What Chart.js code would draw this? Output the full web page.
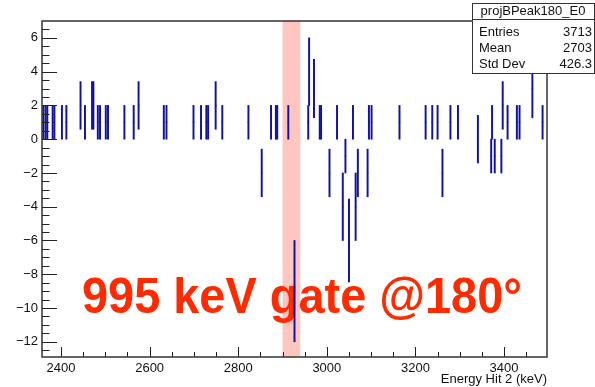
<!DOCTYPE html>
<html>
<head>
<meta charset="utf-8">
<script src="https://cdn.jsdelivr.net/npm/chart.js@4.4.0/dist/chart.umd.min.js"></script>
<style>
  html, body { margin: 0; padding: 0; background: #fff; }
  #wrap { width: 595px; height: 387px; }
</style>
</head>
<body>
<div id="wrap"><canvas id="projChart" width="595" height="387"></canvas></div>
<script>
// projBPeak180_E0 - bins (keV, content, error)
const binCenters = [
  2360, 2365, 2369, 2381, 2385, 2402, 2412, 2444, 2454, 2470,
  2473, 2483, 2488, 2501, 2506, 2543, 2564, 2575, 2632, 2638,
  2699, 2716, 2728, 2732, 2749, 2764, 2823, 2853, 2874, 2885,
  2888, 2913, 2927, 2958, 2960, 2971, 2984, 2987, 3006, 3023,
  3036, 3042, 3050, 3059, 3065, 3070, 3092, 3095, 3101, 3164,
  3223, 3238, 3250, 3261, 3279, 3296, 3341, 3371, 3373, 3379,
  3394, 3397, 3408, 3429, 3435, 3464, 3487
];
const binValues = [
  1, 1, 1, 1, 1, 1, 1, 2, 1, 2,
  2, 1, 1, 1, 1, 1, 1, 2, 1, 1,
  1, 1, 1, 1, 2, 1, 1, -2, 1, 1,
  1, 1, -9, 1, 4, 3, 1, 1, -2, 1,
  -4, -1, -6, 1, -4, -2, -2, 1, 1, 1,
  1, 1, 1, -2, 1, 1, 0, -1, 1, -1,
  -1, 2, 1, 1, 1, 3, 1
];
const binErrors = [
  1, 1, 1, 1, 1, 1, 1, 1.41, 1, 1.41,
  1.41, 1, 1, 1, 1, 1, 1, 1.41, 1, 1,
  1, 1, 1, 1, 1.41, 1, 1, 1.41, 1, 1,
  1, 1, 3, 1, 2, 1.73, 1, 1, 1.41, 1,
  2, 1, 2.45, 1, 2, 1.41, 1.41, 1, 1, 1,
  1, 1, 1, 1.41, 1, 1, 1.41, 1, 1, 1,
  1, 1.41, 1, 1, 1, 1.73, 1
];

const xTickValues = [2400, 2600, 2800, 3000, 3200, 3400];
const yTickValues = [-12, -10, -8, -6, -4, -2, 0, 2, 4, 6];
const gateBand = [2900, 2940];

const gateLabel = "995 keV gate @180°";
const axisTitle = "Energy Hit 2 (keV)";
const statsTitle = "projBPeak180_E0";
const statsLabels = ["Entries", "Mean", "Std Dev"];
const statsValues = ["3713", "2703", "426.3"];

const FONT = "'Liberation Sans', Arial, Helvetica, sans-serif";

function line(ctx, x0, y0, x1, y1) {
  ctx.beginPath();
  ctx.moveTo(x0, y0);
  ctx.lineTo(x1, y1);
  ctx.stroke();
}

// ROOT look: gate band + label under the data, inward ticks, frame and stats box on top
const rootDecor = {
  id: "rootDecor",
  beforeDatasetsDraw(chart) {
    const { ctx, chartArea: a } = chart;
    const x = chart.scales.x;
    const x0 = x.getPixelForValue(gateBand[0]);
    const x1 = x.getPixelForValue(gateBand[1]);
    ctx.save();
    ctx.fillStyle = "#ffc6c0";
    ctx.fillRect(x0, a.top, x1 - x0, a.bottom - a.top);
    ctx.fillStyle = "#ff2a00";
    ctx.font = "bold 50px " + FONT;
    ctx.textAlign = "left";
    ctx.textBaseline = "alphabetic";
    ctx.fillText(gateLabel, 82, 313, 440);
    ctx.restore();
  },
  afterDraw(chart) {
    const { ctx, chartArea: a } = chart;
    const x = chart.scales.x;
    const y = chart.scales.y;
    ctx.save();

    ctx.strokeStyle = "#222";
    ctx.lineWidth = 1;
    for (let v = -12.5; v <= 6.5; v += 0.5) {
      const py = Math.round(y.getPixelForValue(v)) + 0.5;
      line(ctx, a.left, py, a.left + (v % 2 === 0 ? 15 : 7.5), py);
    }
    for (let v = 2400; v <= 3450; v += 50) {
      const px = Math.round(x.getPixelForValue(v)) + 0.5;
      line(ctx, px, a.bottom, px, a.bottom - (v % 200 === 0 ? 10 : 5));
    }

    ctx.strokeStyle = "#333";
    ctx.lineWidth = 1.5;
    ctx.strokeRect(a.left, a.top, a.right - a.left, a.bottom - a.top);

    // stats box
    ctx.fillStyle = "#fff";
    ctx.strokeStyle = "#333";
    ctx.lineWidth = 1;
    ctx.fillRect(472, 19, 122, 54);
    ctx.strokeRect(472.5, 19.5, 122, 54);
    ctx.fillRect(472, 3, 122, 16);
    ctx.strokeRect(472.5, 3.5, 122, 16);

    ctx.fillStyle = "#111";
    ctx.font = "13px " + FONT;
    ctx.textBaseline = "middle";
    ctx.textAlign = "center";
    ctx.fillText(statsTitle, 533, 11.5);
    statsLabels.forEach((label, i) => {
      const ty = 32.5 + i * 16;
      ctx.textAlign = "left";
      ctx.fillText(label, 479, ty);
      ctx.textAlign = "right";
      ctx.fillText(statsValues[i], 592, ty);
    });
    ctx.restore();
  },
};

const errorBars = binCenters.map((c, i) => ({
  x: c,
  y: [binValues[i] - binErrors[i], binValues[i] + binErrors[i]],
}));
const binMarkers = binCenters.map((c, i) => ({ x: c, y: binValues[i] }));

new Chart(document.getElementById("projChart"), {
  type: "bar",
  data: {
    datasets: [
      {
        type: "bar",
        label: "projBPeak180_E0",
        data: errorBars,
        backgroundColor: "#1212a2",
        borderWidth: 0,
        barThickness: 1.3,
      },
      {
        type: "scatter",
        label: "bin content",
        data: binMarkers,
        showLine: false,
        pointStyle: "rect",
        pointRadius: 1,
        pointBackgroundColor: "#404060",
        pointBorderWidth: 0,
      },
    ],
  },
  plugins: [rootDecor],
  options: {
    responsive: false,
    devicePixelRatio: 1,
    animation: false,
    layout: { padding: { left: 0, top: 21, right: 48, bottom: 0 } },
    plugins: {
      legend: { display: false },
      tooltip: { enabled: false },
    },
    scales: {
      x: {
        type: "linear",
        min: 2357,
        max: 3497,
        offset: false,
        grid: { display: false, drawTicks: false },
        border: { display: false },
        afterBuildTicks: (s) => {
          s.ticks = xTickValues.map((v) => ({ value: v }));
        },
        afterFit: (s) => {
          s.height = 30;
        },
        ticks: {
          padding: 4,
          maxRotation: 0,
          autoSkip: false,
          color: "#111",
          font: { family: FONT, size: 13 },
          callback: (v) => String(v),
        },
        title: {
          display: true,
          text: axisTitle,
          align: "end",
          color: "#111",
          font: { family: FONT, size: 13 },
          padding: { top: 0, bottom: 0 },
        },
      },
      y: {
        type: "linear",
        min: -12.9,
        max: 7,
        grid: { display: false, drawTicks: false },
        border: { display: false },
        afterBuildTicks: (s) => {
          s.ticks = yTickValues.map((v) => ({ value: v }));
        },
        afterFit: (s) => {
          s.width = 42;
        },
        ticks: {
          padding: 4,
          color: "#111",
          font: { family: FONT, size: 13 },
          callback: (v) => (v < 0 ? "\u2212" + -v : String(v)),
        },
      },
    },
  },
});
</script>
</body>
</html>
